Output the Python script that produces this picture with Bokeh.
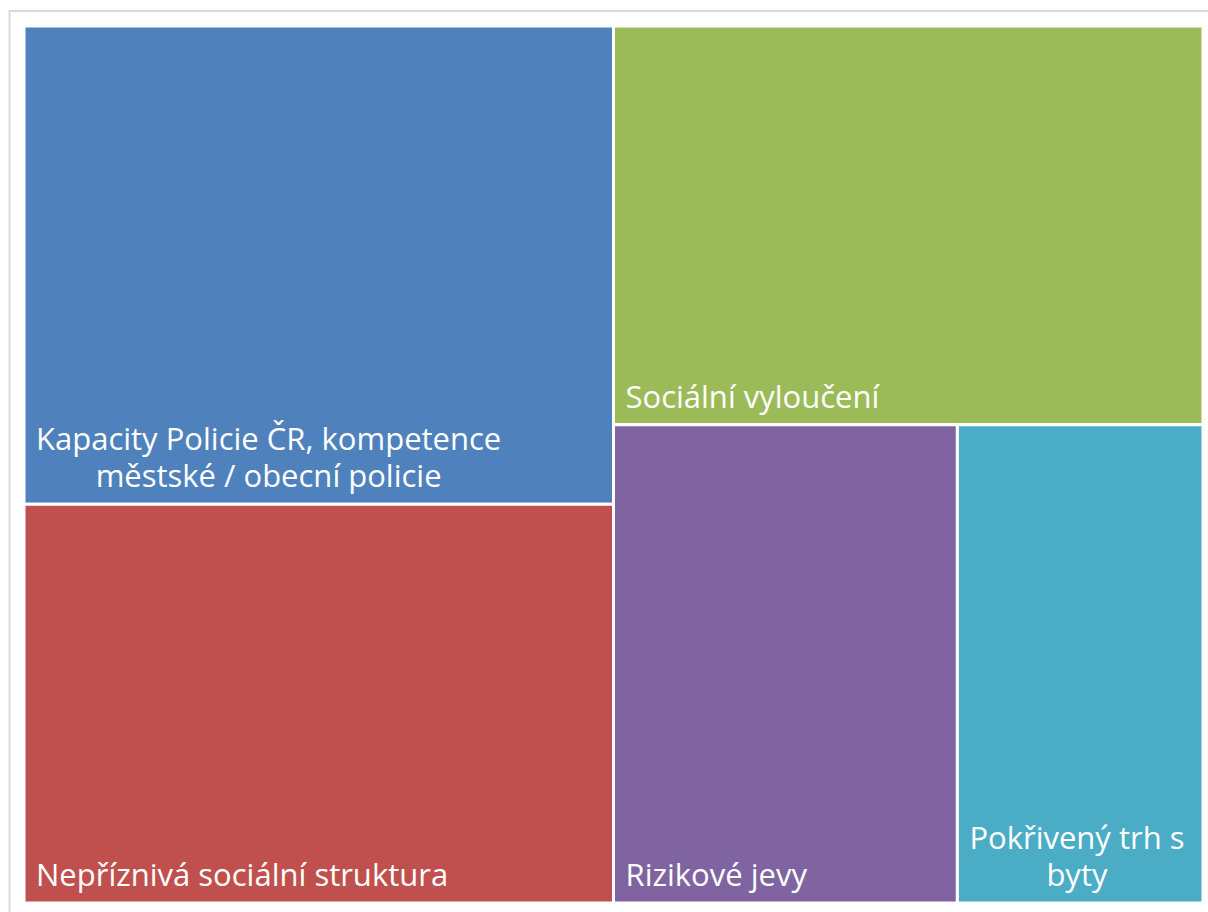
from bokeh.plotting import figure
from bokeh.models import Range1d, ColumnDataSource
from bokeh.core.properties import value
from bokeh.embed import file_html
from bokeh.resources import INLINE

labels = [
    "Kapacity Policie ČR, kompetence\nměstské / obecní policie",
    "Nepříznivá sociální struktura",
    "Sociální vyloučení",
    "Rizikové jevy",
    "Pokřivený trh s\nbyty",
]
values = [12, 10, 10, 7, 5]
colors = ["#4F81BD", "#C0504D", "#9BBB59", "#8064A2", "#4BACC6"]

# treemap area in page pixels
X0, Y0, W, H = 23.5, 25.5, 1179.0, 877.0


def worst(row, short):
    s = sum(row)
    return max(max(short * short * r / (s * s), (s * s) / (short * short * r)) for r in row)


def squarify(vals, x, y, w, h):
    total = sum(vals)
    sizes = [v * w * h / total for v in vals]
    rects = []
    while sizes:
        short = min(w, h)
        row = [sizes[0]]
        i = 1
        while i < len(sizes) and worst(row + [sizes[i]], short) <= worst(row, short):
            row.append(sizes[i])
            i += 1
        s = sum(row)
        if w >= h:
            cw = s / h
            yy = y
            for a in row:
                rh = a / cw
                rects.append((x, yy, cw, rh))
                yy += rh
            x += cw
            w -= cw
        else:
            rh = s / w
            xx = x
            for a in row:
                rw = a / rh
                rects.append((xx, y, rw, rh))
                xx += rw
            y += rh
            h -= rh
        sizes = sizes[len(row):]
    return rects


rects = squarify(values, X0, Y0, W, H)

src = ColumnDataSource(dict(
    left=[r[0] for r in rects],
    right=[r[0] + r[2] for r in rects],
    top=[r[1] for r in rects],
    bottom=[r[1] + r[3] for r in rects],
    color=colors,
    label=labels,
    tx=[r[0] + 12 for r in rects],
    ty=[r[1] + r[3] - 8 for r in rects],
))

p = figure(width=1208, height=912, output_backend="svg", toolbar_location=None,
           x_range=Range1d(0, 1208), y_range=Range1d(912, 0), min_border=0)
p.axis.visible = False
p.grid.visible = False
p.outline_line_color = None
p.background_fill_color = "white"
p.border_fill_color = "white"

# outer chart border
p.quad(left=[9], right=[1400], top=[10.5], bottom=[1100], fill_color=None,
       line_color="#D9D9D9", line_width=2)

p.quad(left="left", right="right", top="top", bottom="bottom", source=src,
       fill_color="color", line_color="white", line_width=3)

p.text(x="tx", y="ty", text="label", source=src, text_color="white",
       text_font=value("Open Sans"), text_font_size="31px",
       text_align="center", anchor="bottom_left", text_line_height=0.878)

open("out.html", "w").write(file_html(p, INLINE))
